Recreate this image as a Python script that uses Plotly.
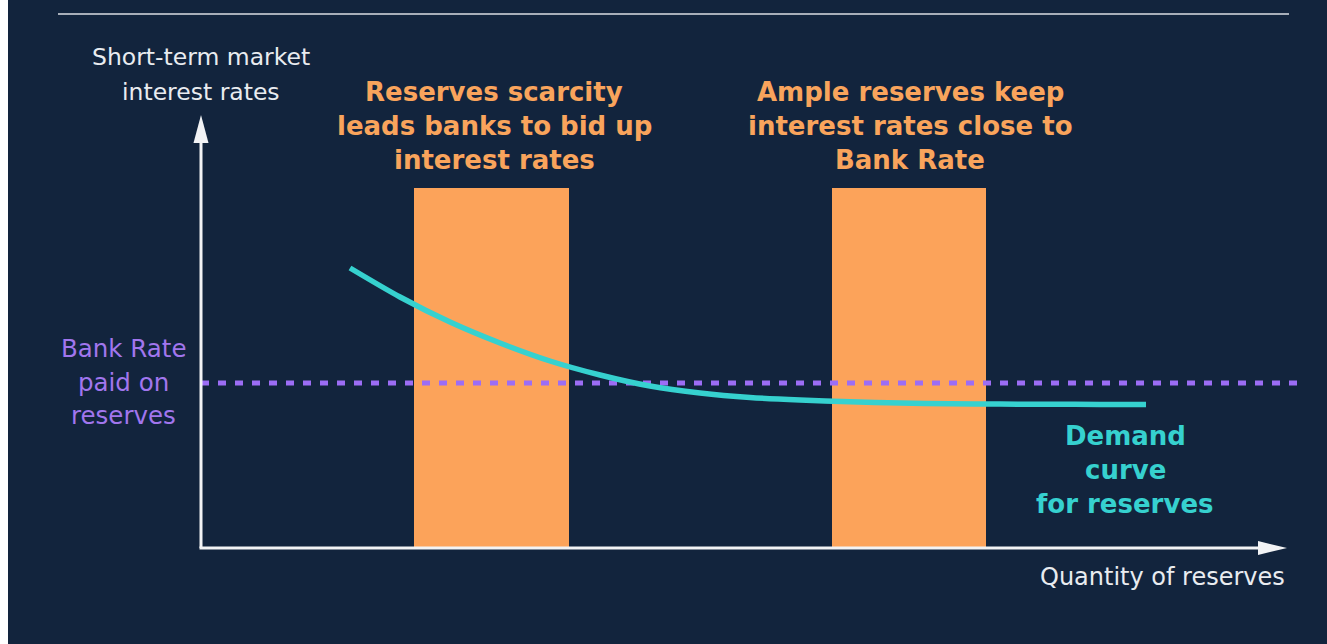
import plotly.graph_objects as go

# ---- data (quantity units on x, rate units on y) ----
curve_quantity = [14.9, 19.9, 24.9, 29.9, 34.9, 39.9, 44.9, 49.9, 54.9, 59.9,
                  64.9, 69.9, 74.9, 79.9, 84.9, 89.9, 94.5]
curve_rate = [28.0, 25.1, 22.6, 20.5, 18.7, 17.3, 16.2, 15.5, 15.05, 14.8,
              14.62, 14.5, 14.43, 14.39, 14.37, 14.36, 14.35]
bar_centers = [29.05, 70.8]
bar_widths = [15.5, 15.4]
bar_heights = [36.0, 36.0]
bank_rate = 16.5
bank_rate_span = [0, 109.7]

# ---- text ----
y_title_lines = ["Short-term market", "interest rates"]
x_title_lines = ["Quantity of reserves"]
bank_lines = ["Bank Rate", "paid on", "reserves"]
scarce_lines = ["Reserves scarcity", "leads banks to bid up", "interest rates"]
ample_lines = ["Ample reserves keep", "interest rates close to", "Bank Rate"]
demand_lines = ["Demand", "curve", "for reserves"]

# ---- styling ----
NAVY = "#12243d"
ORANGE = "#fca35a"
ORANGE_TXT = "#f9a45c"
TEAL = "#36d1cf"
PURPLE = "#9c6df5"
PURPLE_TXT = "#a176ee"
WHITE = "#f2f3f5"
TEXT_WHITE = "#e9ecf0"
FONT = "DejaVu Sans"

W, H = 1327, 644
LEFT = 8
OX, OY = 201, 548  # pixel position of origin
S = 10.0  # pixels per unit


def ux(px):
    return (px - OX) / S


def uy(py):
    return (OY - py) / S


fig = go.Figure()

fig.add_trace(go.Bar(x=bar_centers, y=bar_heights, width=bar_widths, base=0,
                     marker=dict(color=ORANGE, line=dict(width=0)), hoverinfo="skip"))

fig.add_trace(go.Scatter(x=bank_rate_span, y=[bank_rate, bank_rate], mode="lines",
                         line=dict(color=PURPLE, width=5, dash="8px,9px"), hoverinfo="skip"))

fig.add_trace(go.Scatter(x=curve_quantity, y=curve_rate, mode="lines",
                         line=dict(color=TEAL, width=5.5, shape="spline", smoothing=0.8),
                         hoverinfo="skip"))

shapes = []
# top rule
shapes.append(dict(type="line", x0=ux(58), x1=ux(1289), y0=uy(14), y1=uy(14),
                   line=dict(color="#a7aeb9", width=2)))
# y axis
shapes.append(dict(type="line", x0=0, x1=0, y0=0, y1=uy(140), line=dict(color=WHITE, width=3)))
shapes.append(dict(type="path",
                   path=f"M {ux(193.5)} {uy(143)} L {ux(201)} {uy(115)} L {ux(208.5)} {uy(143)} Z",
                   fillcolor=WHITE, line=dict(width=0)))
# x axis
shapes.append(dict(type="line", x0=ux(199.5), x1=ux(1262), y0=0, y1=0, line=dict(color=WHITE, width=3)))
shapes.append(dict(type="path",
                   path=f"M {ux(1258)} {uy(541)} L {ux(1287)} {uy(548)} L {ux(1258)} {uy(555)} Z",
                   fillcolor=WHITE, line=dict(width=0)))

annotations = []


def add_lines(lines, cx, cys, color, size, bold=False):
    for t, cy in zip(lines, cys):
        annotations.append(dict(
            x=ux(cx), y=uy(cy), xref="x", yref="y",
            text=f"<b>{t}</b>" if bold else t, showarrow=False,
            xanchor="center", yanchor="middle",
            font=dict(family=FONT, size=size, color=color)))


add_lines(y_title_lines, 201, [57, 92], TEXT_WHITE, 23.5)
add_lines(x_title_lines, 1162, [577], TEXT_WHITE, 24)
add_lines(bank_lines, 123.5, [348, 382, 415], PURPLE_TXT, 24.5)
add_lines(scarce_lines, 494, [92, 126, 160], ORANGE_TXT, 26, bold=True)
add_lines(ample_lines, 910, [92, 126, 160], ORANGE_TXT, 26, bold=True)
add_lines(demand_lines, 1125, [436, 470, 504], TEAL, 26, bold=True)

fig.update_layout(
    width=W, height=H,
    margin=dict(l=LEFT, r=0, t=0, b=0),
    paper_bgcolor="white", plot_bgcolor=NAVY,
    showlegend=False, bargap=0,
    xaxis=dict(visible=False, range=[ux(LEFT), ux(W)], fixedrange=True),
    yaxis=dict(visible=False, range=[uy(H), uy(0)], fixedrange=True),
    shapes=shapes, annotations=annotations,
)

fig.write_html("out.html")
